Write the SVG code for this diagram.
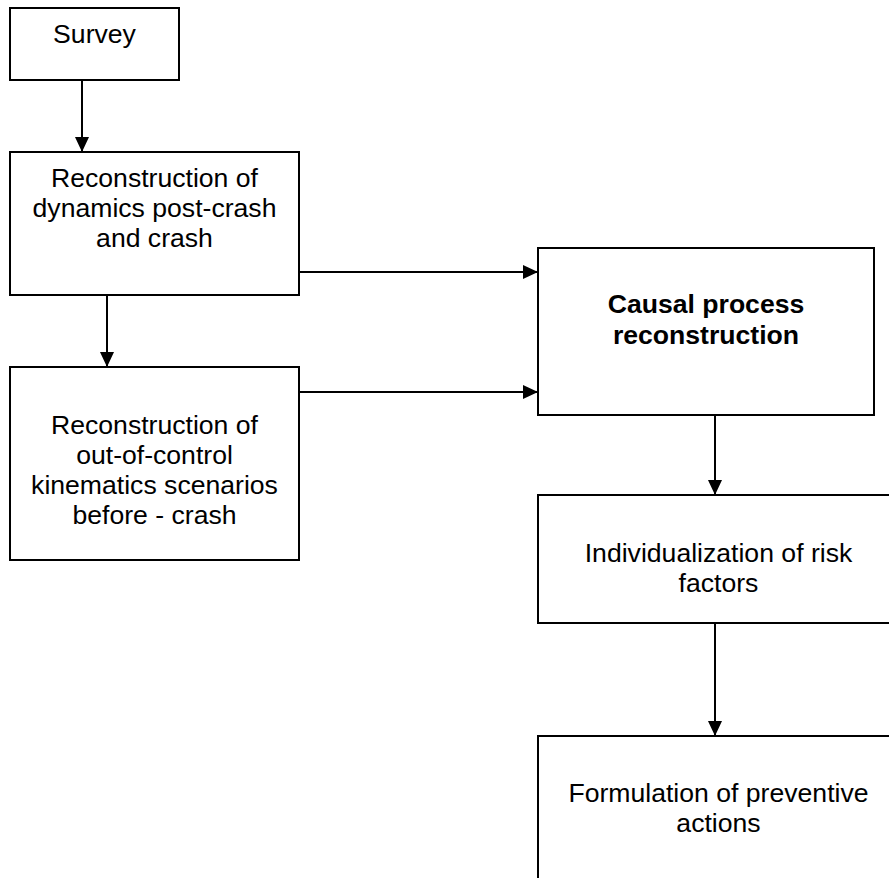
<svg xmlns="http://www.w3.org/2000/svg" width="889" height="878" viewBox="0 0 889 878">
<defs>
<style>
.box{fill:#fff;stroke:#000;stroke-width:2}
.t{font-family:"Liberation Sans",Arial,sans-serif;font-size:26.6px;fill:#000;text-anchor:middle}
.b{font-weight:bold}
.c{stroke:#000;stroke-width:2;fill:none;marker-end:url(#ah)}
</style>
<marker id="ah" markerUnits="userSpaceOnUse" markerWidth="15" markerHeight="14" refX="15" refY="7" orient="auto">
<path d="M0,0 L15,7 L0,14 z" fill="#000"/>
</marker>
</defs>
<rect width="889" height="878" fill="#fff"/>
<g id="connectors">
<line class="c" x1="82" y1="80" x2="82" y2="152"/>
<line class="c" x1="107" y1="295" x2="107" y2="367"/>
<line class="c" x1="299" y1="272" x2="538" y2="272"/>
<line class="c" x1="299" y1="392" x2="538" y2="392"/>
<line class="c" x1="715" y1="415" x2="715" y2="495"/>
<line class="c" x1="715" y1="623" x2="715" y2="736"/>
</g>
<g id="survey">
<rect class="box" x="10" y="8" width="169" height="72"/>
<text class="t" x="94.5" y="43">Survey</text>
</g>
<g id="dynamics">
<rect class="box" x="10" y="152" width="289" height="143"/>
<text class="t" x="154.5" y="187">Reconstruction of</text>
<text class="t" x="154.5" y="217">dynamics post-crash</text>
<text class="t" x="154.5" y="247">and crash</text>
</g>
<g id="kinematics">
<rect class="box" x="10" y="367" width="289" height="193"/>
<text class="t" x="154.5" y="434">Reconstruction of</text>
<text class="t" x="154.5" y="464">out-of-control</text>
<text class="t" x="154.5" y="494">kinematics scenarios</text>
<text class="t" x="154.5" y="524">before - crash</text>
</g>
<g id="causal">
<rect class="box" x="538" y="248" width="336" height="167"/>
<text class="t b" x="706" y="313">Causal process</text>
<text class="t b" x="706" y="344">reconstruction</text>
</g>
<g id="individualization">
<rect class="box" x="538" y="495" width="361" height="128"/>
<text class="t" x="718.5" y="562">Individualization of risk</text>
<text class="t" x="718.5" y="592">factors</text>
</g>
<g id="formulation">
<rect class="box" x="538" y="736" width="361" height="170"/>
<text class="t" x="718.5" y="802">Formulation of preventive</text>
<text class="t" x="718.5" y="832">actions</text>
</g>
</svg>
